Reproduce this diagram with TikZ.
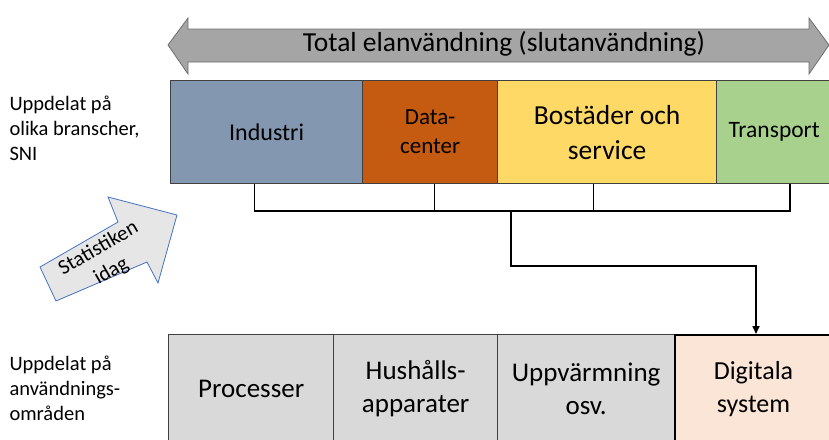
\documentclass[tikz,border=0pt]{standalone}
\usepackage{fontspec}
\setmainfont{Carlito}
\usetikzlibrary{arrows.meta,calc}
\definecolor{indblue}{HTML}{8497B0}
\definecolor{dcorange}{HTML}{C55A11}
\definecolor{boyellow}{HTML}{FFD966}
\definecolor{trgreen}{HTML}{A9D18E}
\definecolor{lightgray}{HTML}{D9D9D9}
\definecolor{digpeach}{HTML}{FBE5D6}
\definecolor{arrgray}{HTML}{A5A5A5}
\definecolor{arredge}{HTML}{6E6E6E}
\definecolor{statfill}{HTML}{E7E6E6}
\definecolor{statedge}{HTML}{4472C4}
\definecolor{edgegray}{HTML}{404040}
\tikzset{
  box/.style={draw=edgegray, line width=1.3pt, anchor=north west, align=center,
    inner sep=0pt, font=\fontsize{24}{28}\selectfont},
  sidelabel/.style={anchor=west, align=left, font=\fontsize{20.5}{25}\selectfont},
  wire/.style={draw=black, line width=1.6pt},
}
\begin{document}
\begin{tikzpicture}[x=1pt,y=-1pt]
\useasboundingbox (0,0) rectangle (829,439);

% double-headed arrow for the total
\draw[fill=arrgray, draw=arredge, line width=0.8pt]
  (168,45) -- (188,18) -- (188,29) -- (809,29) -- (809,18) -- (829,45)
  -- (809,74) -- (809,62) -- (188,62) -- (188,74) -- cycle;
\node[font=\fontsize{27.5}{32}\selectfont] (total) at (504,44) {Total elanvändning (slutanvändning)};

% sector boxes
\node[box, fill=indblue, minimum width=192, minimum height=103] (ind) at (170,80) {Industri};
\node[box, fill=dcorange, minimum width=135, minimum height=103, font=\fontsize{23}{29}\selectfont] (dc) at (362,80) {Data-\\center};
\node[box, fill=boyellow, minimum width=219, minimum height=103, font=\fontsize{27.5}{35}\selectfont] (bo) at (497,80) {Bostäder och\\service};
\node[box, fill=trgreen, minimum width=115, minimum height=103, font=\fontsize{23.5}{28}\selectfont] (tr) at (716,80) {Transport};

% use-area boxes
\node[box, fill=lightgray, minimum width=165, minimum height=108, font=\fontsize{27}{32}\selectfont] (pr) at (168,334) {Processer};
\node[box, fill=lightgray, minimum width=164, minimum height=108, font=\fontsize{27}{33}\selectfont] (hu) at (333,334) {Hushålls-\\apparater};
\node[box, fill=lightgray, minimum width=177, minimum height=108, font=\fontsize{27}{33}\selectfont] (up) at (497,334) {Uppvärmning\\osv.};
\node[box, fill=digpeach, draw=black, line width=2pt, minimum width=157, minimum height=108, font=\fontsize{26}{33}\selectfont] (dig) at (674,334) {Digitala\\system};

% bracket collecting the sectors
\coordinate (bar) at (511,211);
\draw[wire] ([xshift=-12]ind.south) |- (bar);
\draw[wire] ([xshift=16]tr.south) |- (bar);
\draw[wire] ([xshift=4.5]dc.south) -- ([xshift=4.5]dc.south |- bar);
\draw[wire] ([xshift=-13.5]bo.south) -- ([xshift=-13.5]bo.south |- bar);
\draw[wire, -{Triangle[length=8pt,width=7pt]}] (bar) -- ++(0,55) -| ([xshift=2.5]dig.north);

% side labels
\node[sidelabel] (top) at (6,128) {Uppdelat på\\olika branscher,\\SNI};
\node[sidelabel] (bot) at (6,388) {Uppdelat på\\användnings-\\områden};

% block arrow "Statistiken idag"
\draw[fill=statfill, draw=statedge, line width=0.8pt]
  (40,267) -- (118,222) -- (108,197) -- (177,215) -- (158,283) -- (147,262) -- (56,301) -- cycle;
\node[rotate=30, align=center, font=\fontsize{21}{26}\selectfont] (stat) at (105,260) {Statistiken\\idag};
\end{tikzpicture}
\end{document}
